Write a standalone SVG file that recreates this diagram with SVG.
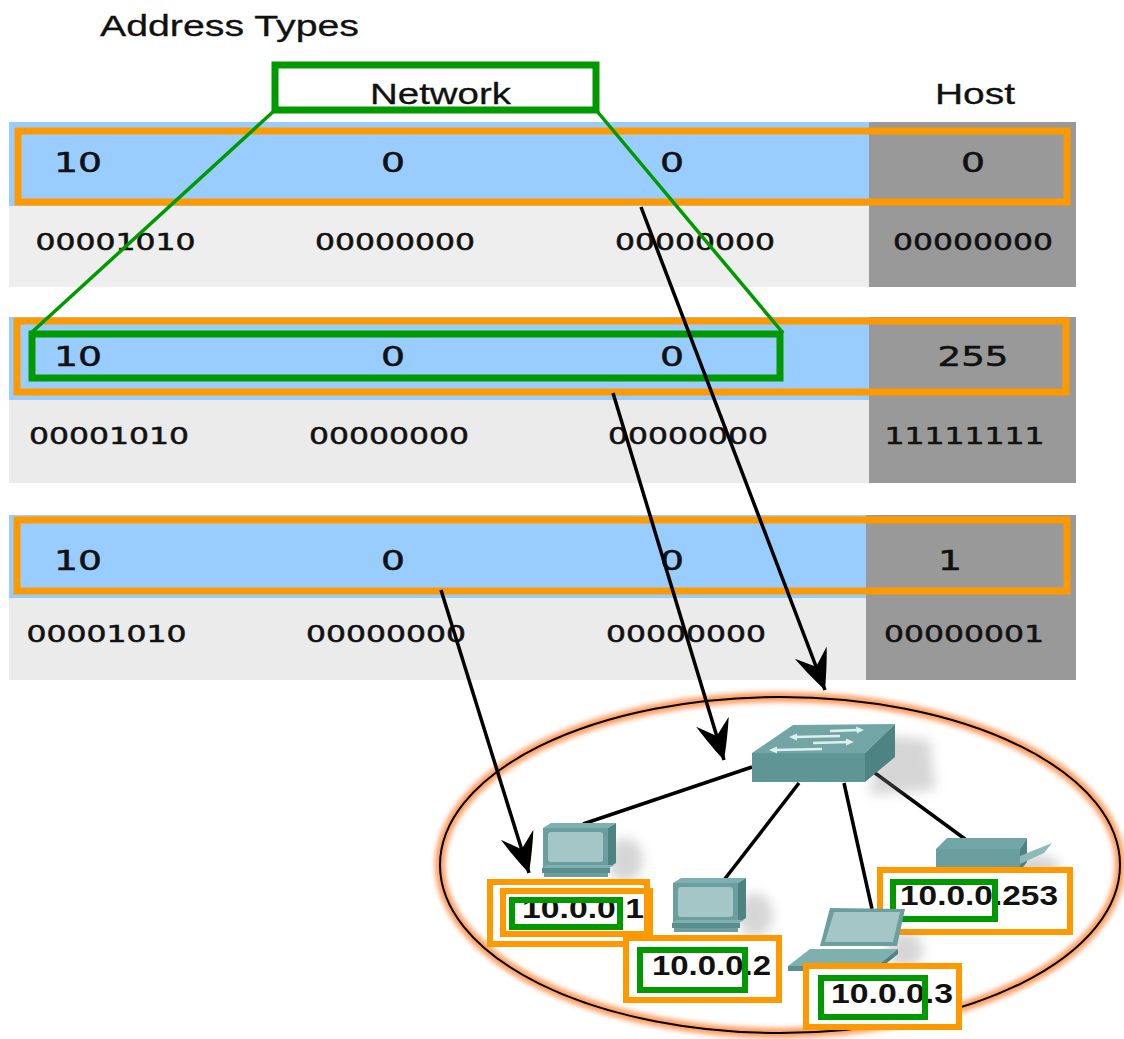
<svg xmlns="http://www.w3.org/2000/svg" width="1124" height="1039" viewBox="0 0 1124 1039">
  <style>
    .title { font-family: "Liberation Sans", Arial, sans-serif; font-size: 29px; fill: #111; stroke: #111; stroke-width: 0.3; }
    .val { font-family: "DejaVu Sans", Verdana, sans-serif; font-size: 26px; fill: #111; stroke: #111; stroke-width: 0.5; }
    .bin { font-family: "DejaVu Sans", Verdana, sans-serif; font-size: 23px; fill: #111; stroke: #111; stroke-width: 0.5; }
    .ip { font-family: "Liberation Sans", Arial, sans-serif; font-size: 27px; font-weight: bold; fill: #111; }
    .blue { fill: #99ccff; }
    .lite { fill: #ebebeb; }
    .host { fill: #999999; }
    .orange { fill: none; stroke: #ff9900; stroke-width: 7; }
    .orange-lbl { fill: #ffffff; stroke: #ff9900; stroke-width: 6; }
    .green { fill: none; stroke: #009900; stroke-width: 7; }
    .green-lbl { fill: none; stroke: #009900; stroke-width: 6; }
    .link { stroke: #000; stroke-width: 3.5; fill: none; }
    .arrow { stroke: #000; stroke-width: 3.5; fill: none; marker-end: url(#barb); }
    .frame { fill: #6b9e9e; }
    .screen { fill: #a5c6c6; }
    .side { fill: #4e8383; }
    .top { fill: #7fb0b0; }
    .dark { fill: #5a8e8e; }
    .shadow { fill: #8a8a8a; opacity: 0.35; filter: url(#soft); }
  </style>
  <defs>
    <marker id="barb" markerUnits="userSpaceOnUse" orient="auto" markerWidth="42" markerHeight="36" refX="40" refY="17">
      <path d="M40,17 C30,12 14,5 0,0 L15,17 L0,34 C14,29 30,22 40,17 Z" fill="#000"/>
    </marker>
    <filter id="soft" x="-50%" y="-50%" width="200%" height="200%">
      <feGaussianBlur stdDeviation="6"/>
    </filter>
    <filter id="glow" x="-10%" y="-10%" width="120%" height="120%">
      <feGaussianBlur stdDeviation="2.5"/>
    </filter>
    <!-- desktop PC: origin at top-left of the monitor front -->
    <g id="pc">
      <polygon class="top" points="0,0 8,-5 73,-5 65,0"/>
      <polygon class="side" points="65,0 73,-5 73,35 65,40"/>
      <rect class="frame" x="0" y="0" width="65" height="40"/>
      <rect class="screen" x="5" y="4" width="55" height="30" rx="3"/>
      <polygon class="top" points="-1,40 66,40 71,37 4,37"/>
      <rect class="dark" x="-1" y="40" width="68" height="5"/>
      <rect class="frame" x="1" y="45" width="64" height="4"/>
    </g>
  </defs>

  <rect width="1124" height="1039" fill="#ffffff"/>

  <!-- headings -->
  <g id="heading">
    <text class="title" x="100" y="36" textLength="259" lengthAdjust="spacingAndGlyphs">Address Types</text>
    <text class="title" x="370" y="104" textLength="141" lengthAdjust="spacingAndGlyphs">Network</text>
    <text class="title" x="935" y="104" textLength="80" lengthAdjust="spacingAndGlyphs">Host</text>
  </g>

  <!-- network address 10.0.0.0 -->
  <g id="row-network">
    <rect class="blue" x="9" y="122" width="861" height="84"/>
    <rect class="lite" x="9" y="206" width="861" height="81" style="fill:#eeeeee"/>
    <rect class="host" x="869" y="122" width="207" height="165"/>
    <rect class="orange" x="18" y="131" width="1049" height="71"/>
    <text class="val" x="54" y="172" textLength="48" lengthAdjust="spacingAndGlyphs">10</text>
    <text class="val" x="393" y="172" text-anchor="middle" textLength="24" lengthAdjust="spacingAndGlyphs">0</text>
    <text class="val" x="672" y="172" text-anchor="middle" textLength="24" lengthAdjust="spacingAndGlyphs">0</text>
    <text class="val" x="973" y="172" text-anchor="middle" textLength="24" lengthAdjust="spacingAndGlyphs">0</text>
    <text class="bin" x="35.5" y="250" textLength="160" lengthAdjust="spacingAndGlyphs">00001010</text>
    <text class="bin" x="315" y="250" textLength="160" lengthAdjust="spacingAndGlyphs">00000000</text>
    <text class="bin" x="615" y="250" textLength="160" lengthAdjust="spacingAndGlyphs">00000000</text>
    <text class="bin" x="893" y="250" textLength="160" lengthAdjust="spacingAndGlyphs">00000000</text>
  </g>

  <!-- broadcast address 10.0.0.255 -->
  <g id="row-broadcast">
    <rect class="blue" x="9" y="317" width="861" height="83"/>
    <rect class="lite" x="9" y="400" width="861" height="83"/>
    <rect class="host" x="869" y="317" width="207" height="166"/>
    <rect class="orange" x="17" y="321" width="1049" height="71"/>
    <rect class="green" x="32" y="334" width="748" height="44"/>
    <text class="val" x="54" y="366" textLength="48" lengthAdjust="spacingAndGlyphs">10</text>
    <text class="val" x="393" y="366" text-anchor="middle" textLength="24" lengthAdjust="spacingAndGlyphs">0</text>
    <text class="val" x="672" y="366" text-anchor="middle" textLength="24" lengthAdjust="spacingAndGlyphs">0</text>
    <text class="val" x="973" y="366" text-anchor="middle" textLength="71" lengthAdjust="spacingAndGlyphs">255</text>
    <text class="bin" x="29" y="444" textLength="160" lengthAdjust="spacingAndGlyphs">00001010</text>
    <text class="bin" x="309" y="444" textLength="160" lengthAdjust="spacingAndGlyphs">00000000</text>
    <text class="bin" x="608" y="444" textLength="160" lengthAdjust="spacingAndGlyphs">00000000</text>
    <text class="bin" x="884.5" y="444" textLength="160" lengthAdjust="spacingAndGlyphs">11111111</text>
  </g>

  <!-- host address 10.0.0.1 -->
  <g id="row-host">
    <rect class="blue" x="9" y="515" width="861" height="83"/>
    <rect class="lite" x="9" y="598" width="861" height="82"/>
    <rect class="host" x="866" y="515" width="210" height="165"/>
    <rect class="orange" x="17" y="520" width="1050" height="71"/>
    <text class="val" x="54" y="570" textLength="48" lengthAdjust="spacingAndGlyphs">10</text>
    <text class="val" x="393" y="570" text-anchor="middle" textLength="24" lengthAdjust="spacingAndGlyphs">0</text>
    <text class="val" x="672" y="570" text-anchor="middle" textLength="24" lengthAdjust="spacingAndGlyphs">0</text>
    <text class="val" x="950" y="570" text-anchor="middle" textLength="24" lengthAdjust="spacingAndGlyphs">1</text>
    <text class="bin" x="26.5" y="642" textLength="160" lengthAdjust="spacingAndGlyphs">00001010</text>
    <text class="bin" x="306" y="642" textLength="160" lengthAdjust="spacingAndGlyphs">00000000</text>
    <text class="bin" x="606" y="642" textLength="160" lengthAdjust="spacingAndGlyphs">00000000</text>
    <text class="bin" x="884" y="642" textLength="160" lengthAdjust="spacingAndGlyphs">00000001</text>
  </g>

  <!-- network portion callout -->
  <g id="network-callout">
    <rect class="green" x="275" y="65" width="321" height="45" fill="none"/>
    <line x1="275" y1="110" x2="31" y2="333" stroke="#009900" stroke-width="3.5"/>
    <line x1="596" y1="110" x2="783" y2="333" stroke="#009900" stroke-width="3.5"/>
  </g>

  <!-- LAN boundary -->
  <g id="lan">
    <ellipse cx="780" cy="865" rx="340" ry="168" fill="none" stroke="#ff7a2a" stroke-width="10" opacity="0.75" filter="url(#glow)"/>
    <ellipse cx="780" cy="865" rx="340" ry="168" fill="none" stroke="#000" stroke-width="2"/>
  </g>

  <!-- LAN cabling -->
  <g id="lan-links">
    <line class="link" x1="752" y1="767" x2="583" y2="824"/>
    <line class="link" x1="799" y1="783" x2="724" y2="880"/>
    <line class="link" x1="844" y1="783" x2="872" y2="909"/>
    <line class="link" x1="875" y1="773" x2="965" y2="839"/>
  </g>

  <!-- switch -->
  <g id="switch">
    <polygon class="shadow" points="880,735 930,740 935,790 870,795"/>
    <polygon class="top" points="752,753 793,725 895,724 865,753" style="fill:#72a6a6"/>
    <rect class="frame" x="752" y="753" width="113" height="29" style="fill:#5f9595"/>
    <polygon class="side" points="865,753 895,724 895,757 865,782"/>
    <g stroke="#dfeeee" stroke-width="2.5" fill="#dfeeee">
      <line x1="830" y1="731" x2="860" y2="730"/><polygon points="864,730 856,726.5 857,733.5" stroke="none"/>
      <line x1="794" y1="737" x2="840" y2="736"/><polygon points="789,737 797,733.5 797,740.5" stroke="none"/>
      <line x1="813" y1="743" x2="849" y2="742"/><polygon points="854,742 846,738.5 846,745.5" stroke="none"/>
      <line x1="774" y1="750" x2="822" y2="749"/><polygon points="769,750 777,746.5 777,753.5" stroke="none"/>
    </g>
  </g>

  <!-- PC 10.0.0.1 -->
  <g id="pc1">
    <ellipse class="shadow" cx="625" cy="860" rx="18" ry="22"/>
    <use href="#pc" x="543" y="828"/>
    <rect class="orange-lbl" x="490" y="882" width="157" height="62"/>
    <rect class="orange-lbl" x="503" y="891" width="147" height="43" style="fill:none"/>
    <text class="ip" x="522" y="918" textLength="122" lengthAdjust="spacingAndGlyphs">10.0.0.1</text>
    <rect class="green-lbl" x="512" y="900" width="108" height="27"/>
  </g>

  <!-- PC 10.0.0.2 -->
  <g id="pc2">
    <ellipse class="shadow" cx="755" cy="915" rx="18" ry="22"/>
    <use href="#pc" x="673" y="883"/>
    <rect class="orange-lbl" x="626" y="938" width="153" height="62"/>
    <text class="ip" x="652" y="975" textLength="119" lengthAdjust="spacingAndGlyphs">10.0.0.2</text>
    <rect class="green-lbl" x="640" y="950" width="105" height="40"/>
  </g>

  <!-- printer 10.0.0.253 -->
  <g id="printer">
    <ellipse class="shadow" cx="1035" cy="868" rx="25" ry="14"/>
    <polygon class="top" points="936,849 947,838 1027,838 1020,849" style="fill:#72a6a6"/>
    <rect class="frame" x="936" y="849" width="84" height="22"/>
    <polygon class="side" points="1020,849 1027,838 1027,862 1020,871"/>
    <polygon class="screen" points="1020,856 1052,843 1044,853 1020,864" style="fill:#8fb8b8"/>
    <rect class="orange-lbl" x="880" y="870" width="190" height="62"/>
    <text class="ip" x="900" y="905" textLength="158" lengthAdjust="spacingAndGlyphs">10.0.0.253</text>
    <rect class="green-lbl" x="893" y="882" width="102" height="37"/>
  </g>

  <!-- laptop 10.0.0.3 -->
  <g id="laptop">
    <ellipse class="shadow" cx="905" cy="950" rx="18" ry="18"/>
    <polygon class="frame" points="820,946 830,908 905,909 897,946"/>
    <polygon class="screen" points="825,942 834,912 900,912 893,942"/>
    <polygon class="top" points="788,966 810,949 898,949 877,966"/>
    <polygon class="side" points="877,966 898,949 898,954 877,971"/>
    <rect class="dark" x="788" y="966" width="89" height="5"/>
    <rect class="orange-lbl" x="806" y="966" width="153" height="61"/>
    <text class="ip" x="831" y="1003" textLength="122" lengthAdjust="spacingAndGlyphs">10.0.0.3</text>
    <rect class="green-lbl" x="821" y="978" width="104" height="39"/>
  </g>

  <!-- address-to-device pointers -->
  <g id="connectors">
    <line class="arrow" x1="641" y1="207" x2="825" y2="690"/>
    <line class="arrow" x1="613" y1="393" x2="724" y2="760"/>
    <line class="arrow" x1="441" y1="590" x2="529" y2="873"/>
  </g>
</svg>
